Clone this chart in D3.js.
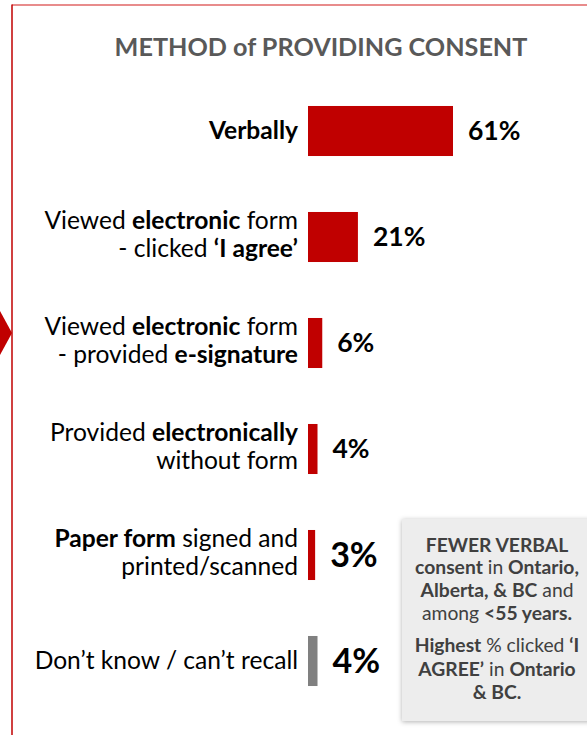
<!DOCTYPE html>
<html>
<head>
<meta charset="utf-8">
<script src="https://cdn.jsdelivr.net/npm/d3@7"></script>
<style>
  html, body { margin: 0; padding: 0; background: #fff; }
  svg { display: block; }
  text { font-family: Lato, "Open Sans", sans-serif; }
</style>
</head>
<body>
<svg id="chart" width="587" height="735"></svg>
<script>
// Survey answers: how consent was given
const categories = [
  "Verbally",
  "Viewed electronic form - clicked ‘I agree’",
  "Viewed electronic form - provided e-signature",
  "Provided electronically without form",
  "Paper form signed and printed/scanned",
  "Don’t know / can’t recall"
];
const values = [61, 21, 6, 4, 3, 4];

// Label lines, each line a list of [text, bold] runs
const labelLines = [
  [[["Verbally", true]]],
  [[["Viewed ", false], ["electronic", true], [" form", false]],
   [["- clicked ", false], ["‘I agree’", true]]],
  [[["Viewed ", false], ["electronic", true], [" form", false]],
   [["- provided ", false], ["e-signature", true]]],
  [[["Provided ", false], ["electronically", true]],
   [["without form", false]]],
  [[["Paper form", true], [" signed and", false]],
   [["printed/scanned", false]]],
  [[["Don’t know / can’t recall", false]]]
];

const title = "METHOD of PROVIDING CONSENT";

// Call-out note lines
const noteLines = [
  [["FEWER VERBAL", true]],
  [["consent", true], [" in ", false], ["Ontario,", true]],
  [["Alberta, & BC", true], [" and", false]],
  [["among ", false], ["<55 years.", true]],
  [["Highest", true], [" % clicked ", false], ["‘I", true]],
  [["AGREE’", true], [" in ", false], ["Ontario", true]],
  [["& BC.", true]]
];

const RED = "#c00000";
const GREY = "#808080";

const svg = d3.select("#chart");

// Frame: left rule, top rule and pointer
svg.append("line")
  .attr("x1", 12).attr("x2", 587).attr("y1", 5).attr("y2", 5)
  .attr("stroke", "#e06666").attr("stroke-width", 1.5);
svg.append("line")
  .attr("x1", 12).attr("x2", 12).attr("y1", 4.5).attr("y2", 735)
  .attr("stroke", RED).attr("stroke-width", 1.5);
svg.append("path")
  .attr("d", "M0,311 L12,333 L0,355 Z")
  .attr("fill", RED);

// Title
svg.append("text")
  .attr("x", 321).attr("y", 55.5)
  .attr("text-anchor", "middle")
  .attr("font-size", 25.2).attr("font-weight", 700)
  .attr("fill", "#595959")
  .text(title);

// Scales
const y = d3.scaleBand()
  .domain(categories)
  .range([78, 714])
  .paddingInner(0.528)
  .paddingOuter(0.264);

const x = d3.scaleLinear()
  .domain([0, d3.max(values)])
  .range([308, 453]);

const rows = categories.map((c, i) => ({ cat: c, value: values[i], lines: labelLines[i], i }));

// Bars
svg.append("g").selectAll("rect")
  .data(rows)
  .join("rect")
  .attr("x", x(0))
  .attr("y", d => y(d.cat))
  .attr("width", d => x(d.value) - x(0))
  .attr("height", y.bandwidth())
  .attr("fill", d => d.i === categories.length - 1 ? GREY : RED);

// Rich text helper
function addRuns(textSel, runs) {
  runs.forEach(([t, b]) => {
    textSel.append("tspan")
      .attr("font-weight", b ? 700 : 400)
      .text(t);
  });
}

// Category labels
const labelG = svg.append("g");
rows.forEach(d => {
  const cy = y(d.cat) + y.bandwidth() / 2;
  const offsets = d.lines.length === 1 ? [8] : [-8, 20];
  d.lines.forEach((runs, k) => {
    const t = labelG.append("text")
      .attr("x", x(0) - 10)
      .attr("y", cy + offsets[k])
      .attr("text-anchor", "end")
      .attr("font-size", 24.6)
      .attr("fill", "#000");
    addRuns(t, runs);
  });
});

// Value labels (last two rows are set larger)
svg.append("g").selectAll("text")
  .data(rows)
  .join("text")
  .attr("x", d => x(d.value) + 15)
  .attr("y", d => y(d.cat) + y.bandwidth() / 2 + (d.i >= 4 ? 12 : 9))
  .attr("font-size", d => d.i >= 4 ? 34 : 26.5)
  .attr("font-weight", 700)
  .attr("fill", "#000")
  .text(d => d.value + "%");

// Call-out box
const defs = svg.append("defs");
const f = defs.append("filter").attr("id", "shadow")
  .attr("x", "-10%").attr("y", "-10%").attr("width", "120%").attr("height", "120%");
f.append("feDropShadow")
  .attr("dx", 0).attr("dy", 1).attr("stdDeviation", 2.5)
  .attr("flood-color", "#000").attr("flood-opacity", 0.3);

svg.append("rect")
  .attr("x", 402).attr("y", 519)
  .attr("width", 190).attr("height", 202)
  .attr("fill", "#ededed")
  .attr("filter", "url(#shadow)");

const noteBaselines = [552, 574, 597, 620, 652, 676, 699];
noteLines.forEach((runs, k) => {
  const t = svg.append("text")
    .attr("x", 497).attr("y", noteBaselines[k])
    .attr("text-anchor", "middle")
    .attr("font-size", 19.3)
    .attr("fill", "#404040");
  addRuns(t, runs);
});
</script>
</body>
</html>
